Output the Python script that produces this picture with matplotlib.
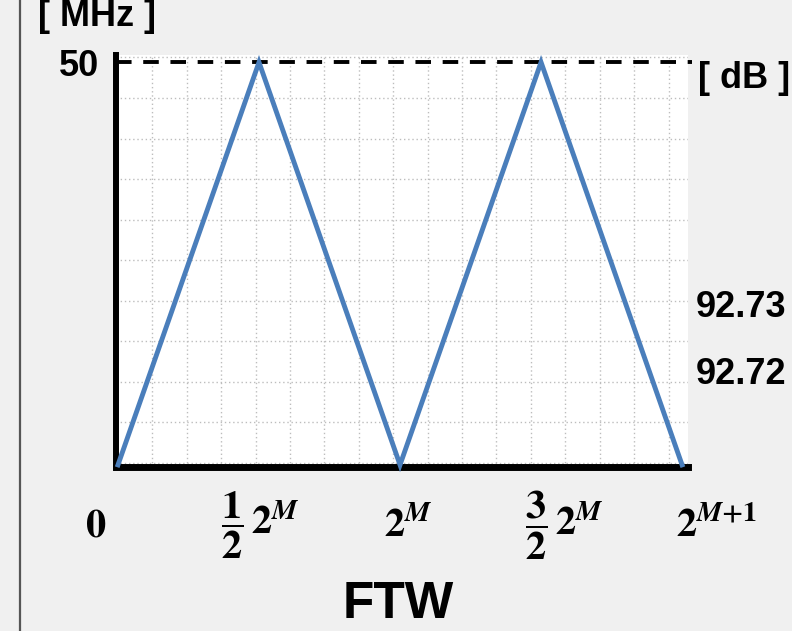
import numpy as np
import matplotlib
matplotlib.use('Agg')
import matplotlib.pyplot as plt
from matplotlib.lines import Line2D

plt.rcParams['font.family'] = ['Liberation Sans', 'DejaVu Sans']
plt.rcParams['mathtext.fontset'] = 'stix'

# triangle: output frequency vs FTW (x in units of 2^M)
ftw = [0, 0.5, 1, 1.5, 2]
freq = [0, 50, 0, 50, 0]

# x tick labels, placed by hand in the original
tick_labels = [r'$\mathbf{0}$',
               r'$\dfrac{\mathbf{1}}{\mathbf{2}}\,\mathbf{2}^{\boldsymbol{M}}$',
               r'$\mathbf{2}^{\boldsymbol{M}}$',
               r'$\dfrac{\mathbf{3}}{\mathbf{2}}\,\mathbf{2}^{\boldsymbol{M}}$',
               r'$\mathbf{2}^{\boldsymbol{M}\mathbf{+1}}$']
tick_pos = [-0.078, 0.503, 1.028, 1.582, 2.124]

# right side dB labels
db_labels = ['92.73', '92.72']
db_pos = [19.5, 11.2]

W, H = 792, 631
fig = plt.figure(figsize=(W / 100, H / 100), dpi=100, facecolor='#f0f0f0')
ax = fig.add_axes([116 / W, (H - 466.5) / H, (688 - 116) / W, (466.5 - 55) / H])
ax.set_facecolor('white')

ax.set_xlim(-0.007, 2.021)
ax.set_ylim(-0.2, 50.9)

# dotted background grid
ax.set_xticks(np.arange(1, 17) * 0.122, minor=True)
ax.set_yticks(np.linspace(0.25, 50.6, 11), minor=True)
ax.grid(which='minor', color='#bdbdbd', linestyle=(0, (1, 2)), linewidth=1)
ax.set_xticks([])
ax.set_yticks([50])
ax.set_yticklabels(['50'], fontsize=26, fontweight='bold')
ax.tick_params(which='both', length=0)
ax.tick_params(axis='y', pad=12)

for s in ['top', 'right']:
    ax.spines[s].set_visible(False)
ax.spines['left'].set_linewidth(4.3)
ax.spines['bottom'].set_linewidth(5)
ax.spines['left'].set_capstyle('projecting')
ax.spines['bottom'].set_capstyle('projecting')

# dashed max line
ax.plot([-0.007, 2.035], [50, 50], color='black', lw=2.8, dashes=(4, 3),
        clip_on=False, zorder=3)

ax.plot(ftw, freq, color='#4a7ebb', lw=3.5, zorder=4, clip_on=False,
        solid_joinstyle='miter')

for lab, xp in zip(tick_labels, tick_pos):
    ax.text(xp, -7.5, lab, fontsize=29, ha='center', va='center',
            clip_on=False)

for lab, yp in zip(db_labels, db_pos):
    ax.text(1.014, yp, lab, transform=ax.get_yaxis_transform(),
            fontsize=26, fontweight='bold', ha='left', va='center')
ax.text(1.017, 48.0, '[ dB ]', transform=ax.get_yaxis_transform(),
        fontsize=26, fontweight='bold', ha='left', va='center')

fig.text(38 / W, 1 - 25.5 / H, '[ MHz ]', fontsize=26, fontweight='bold',
         ha='left', va='baseline')
fig.text(398 / W, 1 - 604 / H, 'FTW', fontsize=37, fontweight='bold',
         ha='center', va='center')

# frame line on the left edge
fig.add_artist(Line2D([19.5 / W, 19.5 / W], [0, 1], color='#555555', lw=1.6))

fig.savefig('out.png', dpi=100, facecolor=fig.get_facecolor())
